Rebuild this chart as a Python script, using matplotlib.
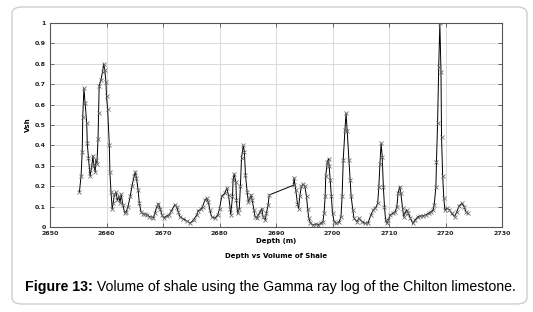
import matplotlib
matplotlib.use("Agg")
import matplotlib.pyplot as plt
from matplotlib.patches import FancyBboxPatch
from matplotlib.ticker import FixedLocator, FixedFormatter

depth = [
    2655.2, 2655.5, 2655.7, 2655.8, 2656.0, 2656.2, 2656.5, 2656.6, 2656.8, 2657.0,
    2657.1, 2657.4, 2657.6, 2657.7, 2658.0, 2658.1, 2658.3, 2658.5, 2658.6, 2658.7,
    2659.0, 2659.3, 2659.5, 2659.7, 2659.9, 2660.0, 2660.2, 2660.5, 2660.6, 2660.8,
    2661.0, 2661.2, 2661.4, 2661.7, 2661.9, 2662.2, 2662.4, 2662.6, 2662.9, 2663.2,
    2663.5, 2663.8, 2664.2, 2664.5, 2664.9, 2665.1, 2665.3, 2665.6, 2665.8, 2666.1,
    2666.4, 2666.8, 2667.2, 2667.6, 2668.0, 2668.3, 2668.6, 2668.9, 2669.2, 2669.5,
    2669.8, 2670.1, 2670.7, 2671.1, 2671.5, 2672.1, 2672.4, 2672.7, 2673.0, 2673.6,
    2674.2, 2674.8, 2675.4, 2676.0, 2676.2, 2676.7, 2677.0, 2677.4, 2677.7, 2678.0,
    2678.3, 2678.6, 2679.2, 2679.7, 2680.0, 2680.4, 2680.9, 2681.3, 2681.6, 2681.9,
    2682.0, 2682.3, 2682.4, 2682.6, 2682.9, 2683.0, 2683.2, 2683.5, 2683.7, 2683.9,
    2684.2, 2684.4, 2684.6, 2684.9, 2685.1, 2685.4, 2685.6, 2685.8, 2686.1, 2686.3,
    2686.6, 2686.9, 2687.2, 2687.5, 2687.7, 2688.1, 2688.3, 2688.6, 2688.8,
    2693.1, 2693.2, 2693.5, 2693.8, 2694.0, 2694.2, 2694.5, 2694.8, 2695.1, 2695.4,
    2695.6, 2695.8, 2696.1, 2696.6, 2697.1, 2697.5, 2697.9, 2698.3, 2698.5, 2698.7,
    2698.8, 2699.1, 2699.3, 2699.4, 2699.6, 2699.8, 2700.0, 2700.3, 2700.7, 2701.2,
    2701.5, 2701.7, 2701.9, 2702.2, 2702.4, 2702.6, 2702.9, 2703.1, 2703.3, 2703.6,
    2703.8, 2704.3, 2704.7, 2705.2, 2705.8, 2706.3, 2706.8, 2707.2, 2707.6, 2708.0,
    2708.2, 2708.4, 2708.6, 2708.8, 2709.0, 2709.2, 2709.4, 2709.6, 2709.9, 2710.2,
    2710.7, 2711.1, 2711.4, 2711.6, 2711.9, 2712.1, 2712.4, 2712.6, 2712.8, 2713.1,
    2713.4, 2713.8, 2714.2, 2714.6, 2715.1, 2715.5, 2716.0, 2716.5, 2717.0, 2717.4,
    2717.8, 2718.0, 2718.3, 2718.4, 2718.6, 2718.8, 2719.0, 2719.2, 2719.3, 2719.5,
    2719.7, 2719.9, 2720.3, 2720.7, 2721.1, 2721.6, 2722.0, 2722.4, 2722.9, 2723.3,
    2723.6, 2723.9,
]

vsh = [
    0.17, 0.25, 0.37, 0.54, 0.68, 0.61, 0.51, 0.41, 0.34, 0.28,
    0.25, 0.30, 0.35, 0.31, 0.27, 0.33, 0.31, 0.43, 0.56, 0.69,
    0.72, 0.76, 0.80, 0.77, 0.71, 0.64, 0.58, 0.40, 0.27, 0.17,
    0.09, 0.12, 0.16, 0.17, 0.13, 0.15, 0.12, 0.16, 0.11, 0.07,
    0.075, 0.10, 0.15, 0.20, 0.25, 0.27, 0.24, 0.18, 0.12, 0.075,
    0.065, 0.063, 0.06, 0.05, 0.05, 0.045, 0.07, 0.10, 0.115, 0.09,
    0.06, 0.045, 0.055, 0.06, 0.08, 0.11, 0.10, 0.075, 0.05, 0.04,
    0.03, 0.018, 0.035, 0.06, 0.08, 0.087, 0.10, 0.13, 0.14, 0.125,
    0.083, 0.05, 0.043, 0.06, 0.09, 0.15, 0.165, 0.19, 0.155, 0.09,
    0.06, 0.15, 0.23, 0.26, 0.22, 0.13, 0.067, 0.09, 0.20, 0.34,
    0.40, 0.37, 0.255, 0.17, 0.125, 0.14, 0.157, 0.13, 0.083, 0.05,
    0.043, 0.06, 0.075, 0.09, 0.05, 0.034, 0.067, 0.108, 0.157,
    0.205, 0.24, 0.18, 0.115, 0.09, 0.15, 0.20, 0.21, 0.20, 0.15,
    0.09, 0.043, 0.018, 0.01, 0.015, 0.01, 0.018, 0.026, 0.067, 0.15,
    0.25, 0.32, 0.335, 0.30, 0.23, 0.15, 0.067, 0.026, 0.018, 0.026,
    0.05, 0.15, 0.33, 0.475, 0.557, 0.47, 0.33, 0.23, 0.15, 0.083,
    0.043, 0.026, 0.043, 0.026, 0.018, 0.021, 0.059, 0.083, 0.092, 0.116,
    0.198, 0.31, 0.41, 0.345, 0.198, 0.10, 0.034, 0.018, 0.034, 0.059,
    0.067, 0.075, 0.10, 0.165, 0.198, 0.165, 0.092, 0.05, 0.067, 0.083,
    0.067, 0.043, 0.018, 0.034, 0.05, 0.054, 0.054, 0.06, 0.067, 0.075,
    0.083, 0.108, 0.198, 0.32, 0.51, 0.786, 1.0, 0.76, 0.44, 0.25,
    0.14, 0.083, 0.092, 0.083, 0.067, 0.05, 0.075, 0.103, 0.116, 0.10,
    0.075, 0.067,
]

x_ticks = [2650, 2660, 2670, 2680, 2690, 2700, 2710, 2720, 2730]
y_ticks = [0, 0.1, 0.2, 0.3, 0.4, 0.5, 0.6, 0.7, 0.8, 0.9, 1.0]
y_tick_labels = ["0", "0.1", "0.2", "0.3", "0.4", "0.5", "0.6", "0.7", "0.8", "0.9", "1"]

W, H = 533, 312
fig = plt.figure(figsize=(W / 100, H / 100), dpi=100)
fig.patch.set_facecolor("white")

box = FancyBboxPatch((12 / W, 8 / H), (527 - 12) / W, (305 - 8) / H,
                     boxstyle="round,pad=0,rounding_size=0.02",
                     transform=fig.transFigure, facecolor="none",
                     edgecolor="#cfcfcf", linewidth=1.0, zorder=-10)
fig.patches.append(box)

left, right, top, bottom = 50, 502, 23, 227
ax = fig.add_axes([left / W, 1 - bottom / H, (right - left) / W, (bottom - top) / H])
ax.set_facecolor("none")
ax.set_xlim(2650, 2730)
ax.set_ylim(0, 1)
ax.xaxis.set_major_locator(FixedLocator(x_ticks))
ax.yaxis.set_major_locator(FixedLocator(y_ticks))
ax.yaxis.set_major_formatter(FixedFormatter(y_tick_labels))
ax.grid(True, color="#d4d4d4", linewidth=0.6)
ax.set_axisbelow(True)
for s in ax.spines.values():
    s.set_color("#555555")
    s.set_linewidth(0.8)
ax.tick_params(direction="in", top=True, right=True, length=3, width=0.6,
               color="#555555", labelsize=4.5, pad=3)
for lab in ax.get_xticklabels() + ax.get_yticklabels():
    lab.set_fontweight("bold")
    lab.set_color("#222222")

ax.plot(depth, vsh, color="black", linewidth=0.7, marker="x", markersize=2.8,
        markeredgecolor="#666666", markeredgewidth=0.55)

ax.set_ylabel("Vsh", fontsize=5, fontweight="bold", labelpad=3)
fig.text(276 / W, 1 - 241 / H, "Depth (m)", ha="center", va="center",
         fontsize=5, fontweight="bold")
fig.text(276 / W, 1 - 256 / H, "Depth vs Volume of Shale", ha="center", va="center",
         fontsize=5, fontweight="bold")

t1 = fig.text(25 / W, 1 - 287 / H, "Figure 13:", ha="left", va="center",
              fontsize=10.2, fontweight="bold", family="Liberation Sans")
fig.canvas.draw()
r = fig.canvas.get_renderer()
bb = t1.get_window_extent(renderer=r)
fig.text(bb.x1 / W, 1 - 287 / H, " Volume of shale using the Gamma ray log of the Chilton limestone.",
         ha="left", va="center", fontsize=10.2, family="Liberation Sans")

fig.savefig("out.png", dpi=100)
